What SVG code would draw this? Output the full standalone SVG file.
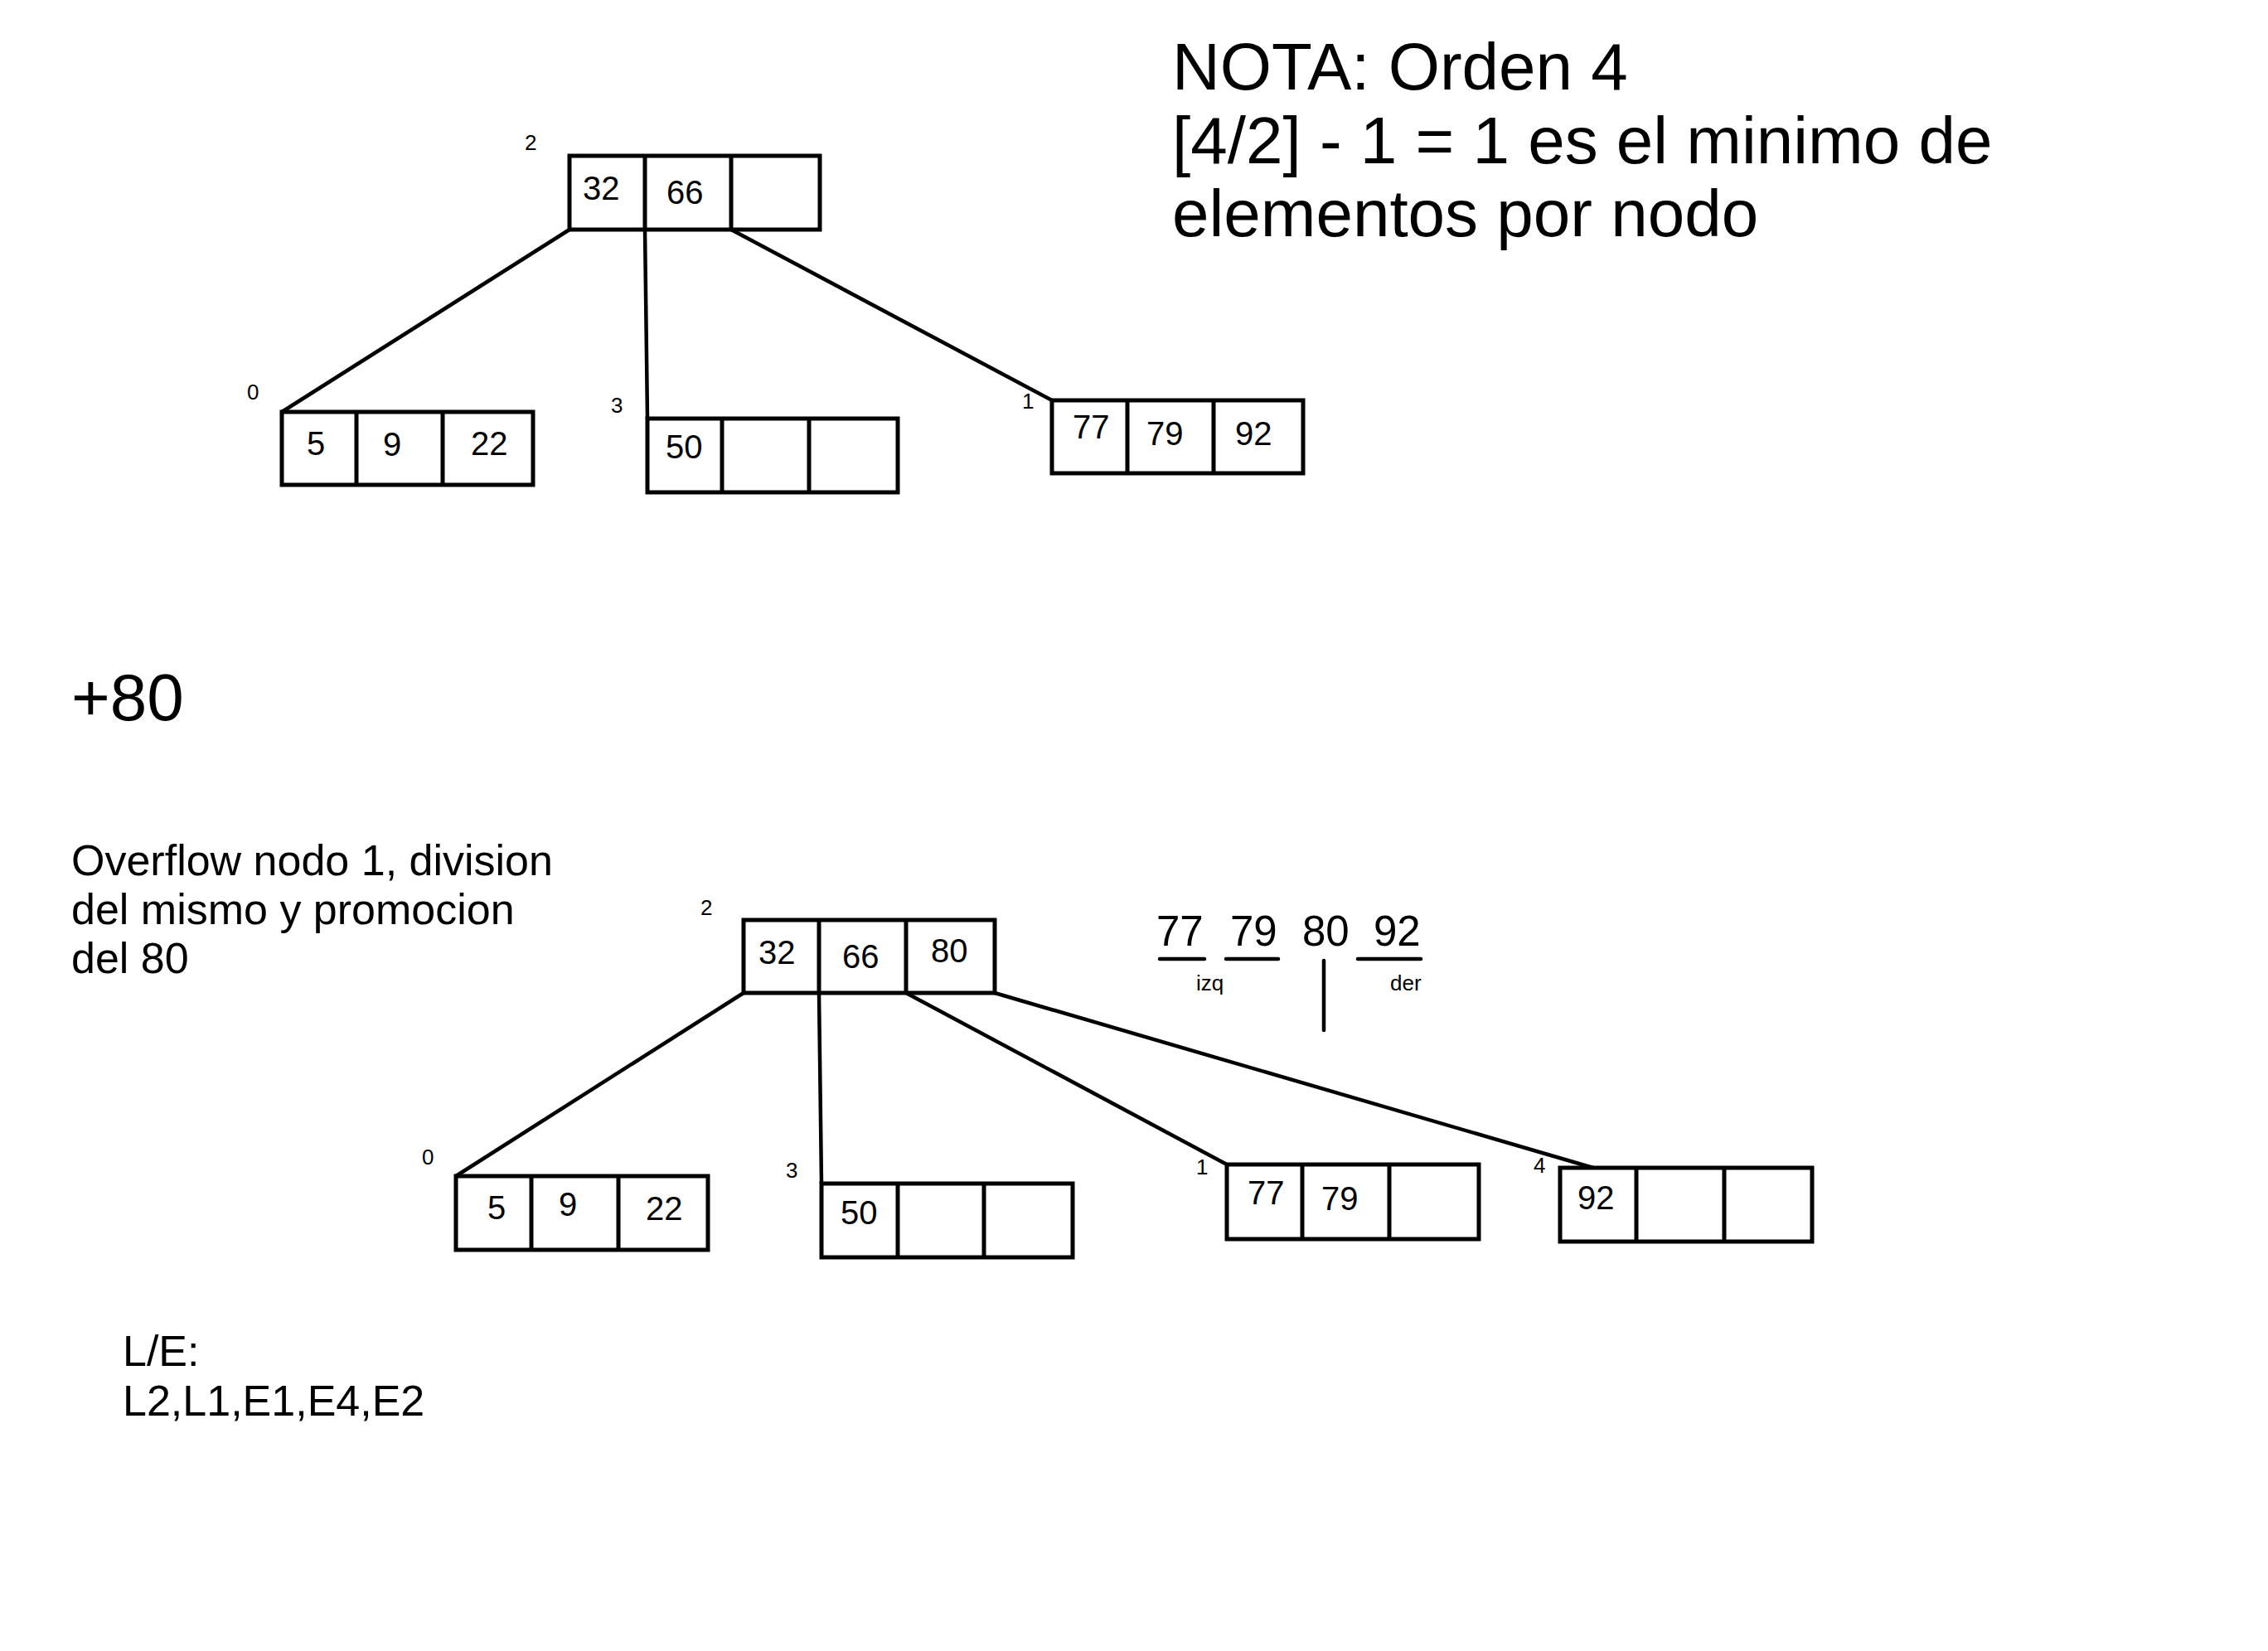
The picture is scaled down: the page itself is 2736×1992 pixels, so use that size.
<svg xmlns="http://www.w3.org/2000/svg" width="2736" height="1992" viewBox="0 0 2736 1992">
<style>
text{font-family:"Liberation Sans",Arial,sans-serif;fill:#000}
.box{fill:#fff;stroke:#000;stroke-width:5}
.div{stroke:#000;stroke-width:5}
.con{stroke:#000;stroke-width:4.5;fill:none}
.cell{font-size:40px}
.idx{font-size:26px}
.big{font-size:80px}
.mid{font-size:52px}
.num{font-size:51px}
.sm{font-size:26px}
</style>
<rect width="2736" height="1992" fill="#fff"/>
<g id="connectors">
<line class="con" x1="687" y1="277" x2="340" y2="497"/>
<line class="con" x1="778" y1="277" x2="781" y2="505"/>
<line class="con" x1="882" y1="277" x2="1269" y2="483"/>
<line class="con" x1="897" y1="1198" x2="550" y2="1419"/>
<line class="con" x1="988" y1="1198" x2="991" y2="1428"/>
<line class="con" x1="1093" y1="1198" x2="1480" y2="1405"/>
<line class="con" x1="1200" y1="1198" x2="1922" y2="1409"/>
</g>
<g id="top-root">
<rect class="box" x="687" y="188" width="302" height="89"/>
<line class="div" x1="778" y1="188" x2="778" y2="277"/>
<line class="div" x1="882" y1="188" x2="882" y2="277"/>
<text class="idx" x="633" y="181">2</text>
<text class="cell" x="703" y="241">32</text>
<text class="cell" x="804" y="246">66</text>
</g>
<g id="top-node0">
<rect class="box" x="340" y="497" width="303" height="88"/>
<line class="div" x1="430" y1="497" x2="430" y2="585"/>
<line class="div" x1="534" y1="497" x2="534" y2="585"/>
<text class="idx" x="298" y="482">0</text>
<text class="cell" x="370" y="549">5</text>
<text class="cell" x="462" y="550">9</text>
<text class="cell" x="568" y="549">22</text>
</g>
<g id="top-node3">
<rect class="box" x="781" y="505" width="302" height="89"/>
<line class="div" x1="871" y1="505" x2="871" y2="594"/>
<line class="div" x1="976" y1="505" x2="976" y2="594"/>
<text class="idx" x="737" y="498">3</text>
<text class="cell" x="803" y="553">50</text>
</g>
<g id="top-node1">
<rect class="box" x="1269" y="483" width="303" height="88"/>
<line class="div" x1="1360" y1="483" x2="1360" y2="571"/>
<line class="div" x1="1464" y1="483" x2="1464" y2="571"/>
<text class="idx" x="1233" y="493">1</text>
<text class="cell" x="1294" y="529">77</text>
<text class="cell" x="1383" y="537">79</text>
<text class="cell" x="1490" y="537">92</text>
</g>
<g id="nota">
<text class="big" x="1414" y="108">NOTA: Orden 4</text>
<text class="big" x="1414" y="197">[4/2] - 1 = 1 es el minimo de</text>
<text class="big" x="1414" y="285">elementos por nodo</text>
</g>
<g id="insert">
<text class="big" x="86" y="869">+80</text>
</g>
<g id="overflow-note">
<text class="mid" x="86" y="1056">Overflow nodo 1, division</text>
<text class="mid" x="86" y="1115">del mismo y promocion</text>
<text class="mid" x="86" y="1174">del 80</text>
</g>
<g id="split">
<text class="num" x="1395" y="1141">77</text>
<text class="num" x="1484" y="1141">79</text>
<text class="num" x="1571" y="1141">80</text>
<text class="num" x="1657" y="1141">92</text>
<line class="con" x1="1399" y1="1157" x2="1453" y2="1157" stroke-linecap="round"/>
<line class="con" x1="1479" y1="1157" x2="1542" y2="1157" stroke-linecap="round"/>
<line class="con" x1="1638" y1="1157" x2="1714" y2="1157" stroke-linecap="round"/>
<line class="con" x1="1597" y1="1159" x2="1597" y2="1243" stroke-linecap="round"/>
<text class="sm" x="1443" y="1195">izq</text>
<text class="sm" x="1677" y="1195">der</text>
</g>
<g id="bottom-root">
<rect class="box" x="897" y="1110" width="303" height="88"/>
<line class="div" x1="988" y1="1110" x2="988" y2="1198"/>
<line class="div" x1="1093" y1="1110" x2="1093" y2="1198"/>
<text class="idx" x="845" y="1104">2</text>
<text class="cell" x="915" y="1163">32</text>
<text class="cell" x="1016" y="1168">66</text>
<text class="cell" x="1123" y="1161">80</text>
</g>
<g id="bottom-node0">
<rect class="box" x="550" y="1419" width="304" height="89"/>
<line class="div" x1="641" y1="1419" x2="641" y2="1508"/>
<line class="div" x1="746" y1="1419" x2="746" y2="1508"/>
<text class="idx" x="509" y="1405">0</text>
<text class="cell" x="588" y="1471">5</text>
<text class="cell" x="674" y="1467">9</text>
<text class="cell" x="779" y="1472">22</text>
</g>
<g id="bottom-node3">
<rect class="box" x="991" y="1428" width="303" height="89"/>
<line class="div" x1="1083" y1="1428" x2="1083" y2="1517"/>
<line class="div" x1="1187" y1="1428" x2="1187" y2="1517"/>
<text class="idx" x="948" y="1421">3</text>
<text class="cell" x="1014" y="1477">50</text>
</g>
<g id="bottom-node1">
<rect class="box" x="1480" y="1405" width="304" height="90"/>
<line class="div" x1="1571" y1="1405" x2="1571" y2="1495"/>
<line class="div" x1="1676" y1="1405" x2="1676" y2="1495"/>
<text class="idx" x="1443" y="1417">1</text>
<text class="cell" x="1505" y="1453">77</text>
<text class="cell" x="1594" y="1460">79</text>
</g>
<g id="bottom-node4">
<rect class="box" x="1882" y="1409" width="304" height="89"/>
<line class="div" x1="1974" y1="1409" x2="1974" y2="1498"/>
<line class="div" x1="2080" y1="1409" x2="2080" y2="1498"/>
<text class="idx" x="1850" y="1415">4</text>
<text class="cell" x="1903" y="1459">92</text>
</g>
<g id="le">
<text class="mid" x="148" y="1648">L/E:</text>
<text class="mid" x="148" y="1708">L2,L1,E1,E4,E2</text>
</g>
</svg>
